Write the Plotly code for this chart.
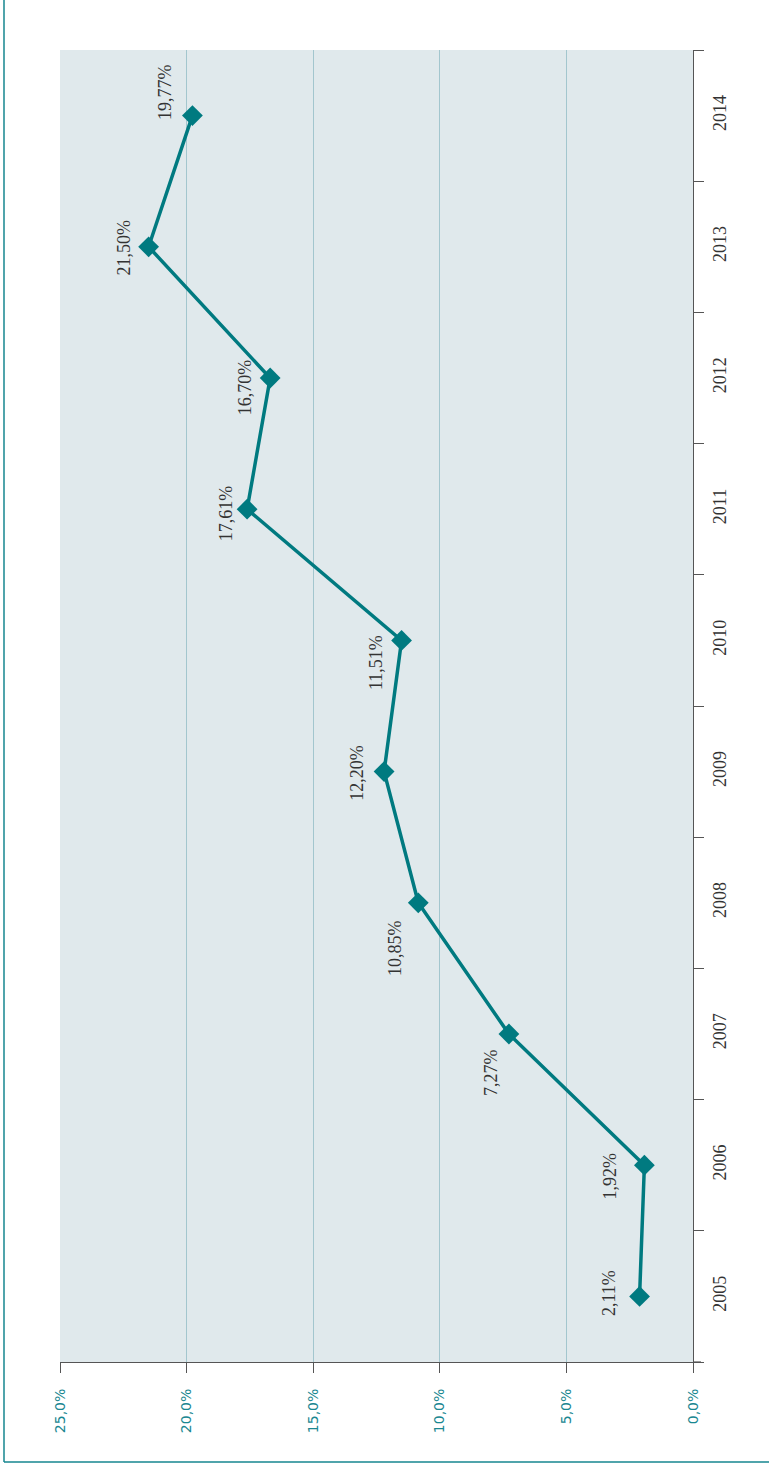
"""Rotated line chart of yearly percentages."""
import plotly.graph_objects as go

years = ["2005", "2006", "2007", "2008", "2009", "2010", "2011", "2012", "2013", "2014"]
values = [2.11, 1.92, 7.27, 10.85, 12.20, 11.51, 17.61, 16.70, 21.50, 19.77]
pct_ticks = [0, 5, 10, 15, 20, 25]
pct_labels = ["0,0%", "5,0%", "10,0%", "15,0%", "20,0%", "25,0%"]
value_labels = ["2,11%", "1,92%", "7,27%", "10,85%", "12,20%",
                "11,51%", "17,61%", "16,70%", "21,50%", "19,77%"]

# label offsets (px) relative to each marker
label_dx = [-30, -34, -18, -23, -28, -25, -21, -25, -25, -28]
label_dy = [3, -11, -38, -45, -1, -22, -4, -9, -1, 24]

TEAL = "#007a80"
W, H = 769, 1471
L, R, T, B = 60, 76, 50, 109
PW, PH = W - L - R, H - T - B

fig = go.Figure()

fig.add_trace(go.Scatter(
    x=values,
    y=years,
    mode="lines+markers",
    line=dict(color=TEAL, width=3.5),
    marker=dict(symbol="diamond", size=16, color=TEAL),
    hoverinfo="x+y",
))

for i in range(len(years)):
    fig.add_annotation(
        x=values[i], y=i, xref="x", yref="y",
        text=value_labels[i],
        textangle=-90,
        showarrow=False,
        xshift=label_dx[i], yshift=label_dy[i],
        font=dict(family="Liberation Serif", size=18, color="#333333"),
    )


def px_x(p):
    return (p - L) / PW


def px_y(p):
    return (H - B - p) / PH


# outer frame (left and bottom edges show)
fig.add_shape(type="line", xref="paper", yref="paper",
              x0=px_x(4), x1=px_x(4), y0=px_y(-5), y1=px_y(1462),
              line=dict(color="#16868f", width=1.5))
fig.add_shape(type="line", xref="paper", yref="paper",
              x0=px_x(4), x1=px_x(780), y0=px_y(1462), y1=px_y(1462),
              line=dict(color="#16868f", width=1.5))
# bottom axis line runs a little past the right axis
fig.add_shape(type="line", xref="paper", yref="paper",
              x0=1, x1=px_x(701), y0=0, y1=0,
              line=dict(color="#555555", width=1.2))

fig.update_xaxes(
    range=[25, 0],
    tickvals=pct_ticks,
    ticktext=pct_labels,
    tickangle=-90,
    ticks="outside", ticklen=10, tickcolor="#555555",
    showline=True, linecolor="#555555", linewidth=1.2,
    showgrid=True, gridcolor="#a3c6ce", gridwidth=1,
    zeroline=False,
    tickfont=dict(family="DejaVu Sans", size=14, color="#1a8791"),
    ticklabelstandoff=10,
)
fig.update_yaxes(
    type="category",
    categoryorder="array", categoryarray=years,
    range=[-0.5, 9.5],
    side="right",
    tickangle=-90,
    tickson="boundaries",
    ticks="outside", ticklen=10, tickcolor="#555555",
    showline=True, linecolor="#555555", linewidth=1.2,
    showgrid=False, zeroline=False,
    tickfont=dict(family="Liberation Serif", size=18, color="#333333"),
    ticklabelstandoff=10,
)

fig.update_layout(
    width=W, height=H,
    margin=dict(l=L, r=R, t=T, b=B),
    plot_bgcolor="#e0e9ec",
    paper_bgcolor="white",
    showlegend=False,
)

fig.write_html("out.html", config={"displayModeBar": False},
               post_script="document.body.style.margin='0';")
